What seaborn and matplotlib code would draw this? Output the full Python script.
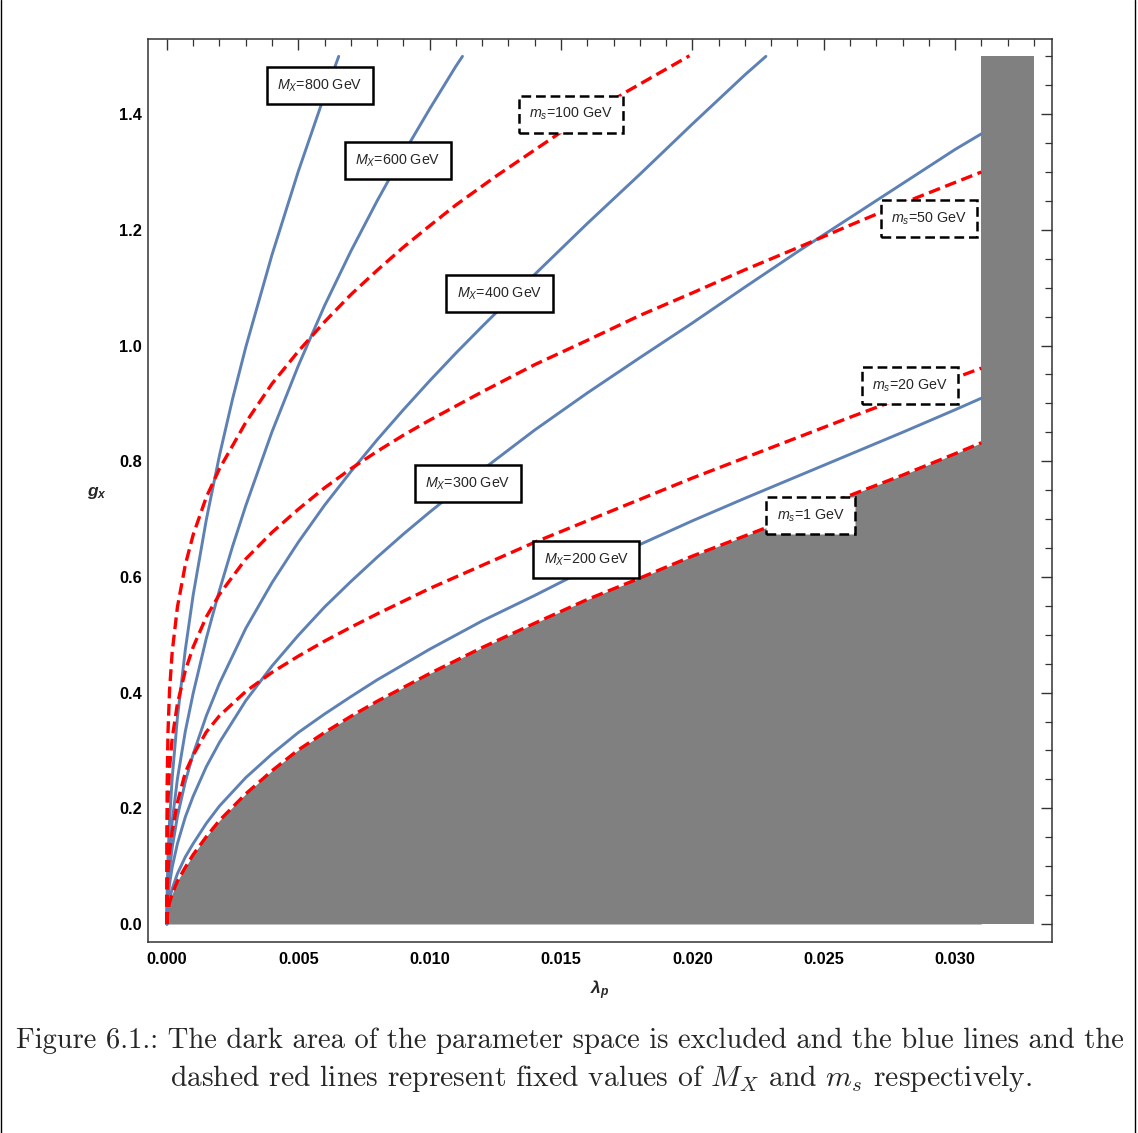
import numpy as np
import matplotlib
matplotlib.use("Agg")
import matplotlib.pyplot as plt
import seaborn as sns
from matplotlib.lines import Line2D
from matplotlib.ticker import MultipleLocator, FormatStrFormatter

# ---- contours of fixed dark-photon mass M_X (solid blue) ----
lam_mx800 = [0, 0.00001, 0.00004, 0.0001, 0.0002, 0.0004, 0.0007, 0.001, 0.0015,
             0.002, 0.0025, 0.003, 0.004, 0.005, 0.006, 0.00654]
g_mx800 = [0, 0.056, 0.113, 0.178, 0.252, 0.357, 0.474, 0.569, 0.699,
           0.810, 0.908, 0.997, 1.157, 1.301, 1.433, 1.500]

lam_mx600 = [0, 0.00001, 0.00004, 0.0001, 0.0002, 0.0004, 0.0007, 0.001, 0.0015,
             0.002, 0.0025, 0.003, 0.004, 0.005, 0.006, 0.007, 0.008, 0.009,
             0.010, 0.011, 0.01125]
g_mx600 = [0, 0.040, 0.079, 0.125, 0.177, 0.251, 0.333, 0.399, 0.494,
           0.577, 0.653, 0.723, 0.851, 0.965, 1.069, 1.163, 1.250, 1.332,
           1.409, 1.483, 1.500]

lam_mx400 = [0, 0.00001, 0.00004, 0.0001, 0.0002, 0.0004, 0.0007, 0.001, 0.0015,
             0.002, 0.003, 0.004, 0.005, 0.006, 0.007, 0.008, 0.009, 0.010,
             0.011, 0.012, 0.014, 0.016, 0.018, 0.020, 0.022, 0.0228]
g_mx400 = [0, 0.029, 0.059, 0.093, 0.132, 0.186, 0.246, 0.294, 0.360,
           0.416, 0.511, 0.590, 0.660, 0.724, 0.782, 0.837, 0.889, 0.939,
           0.987, 1.033, 1.123, 1.211, 1.296, 1.383, 1.468, 1.500]

lam_mx300 = [0, 0.00001, 0.00004, 0.0001, 0.0002, 0.0004, 0.0007, 0.001, 0.0015,
             0.002, 0.003, 0.004, 0.005, 0.006, 0.007, 0.008, 0.009, 0.010,
             0.012, 0.014, 0.016, 0.018, 0.020, 0.022, 0.024, 0.026, 0.028,
             0.030, 0.031]
g_mx300 = [0, 0.022, 0.044, 0.069, 0.098, 0.139, 0.185, 0.221, 0.272,
           0.314, 0.386, 0.446, 0.499, 0.548, 0.592, 0.634, 0.674, 0.712,
           0.785, 0.854, 0.918, 0.979, 1.039, 1.101, 1.162, 1.221, 1.280,
           1.339, 1.366]

lam_mx200 = [0, 0.00001, 0.00004, 0.0001, 0.0002, 0.0004, 0.0007, 0.001, 0.0015,
             0.002, 0.003, 0.004, 0.005, 0.006, 0.007, 0.008, 0.010, 0.012,
             0.014, 0.016, 0.018, 0.020, 0.022, 0.024, 0.026, 0.028, 0.030,
             0.031]
g_mx200 = [0, 0.014, 0.027, 0.043, 0.061, 0.087, 0.116, 0.139, 0.174,
           0.204, 0.253, 0.294, 0.331, 0.363, 0.393, 0.422, 0.475, 0.524,
           0.568, 0.614, 0.656, 0.697, 0.736, 0.774, 0.812, 0.850, 0.889,
           0.909]

# ---- contours of fixed scalar mass m_s (dashed red) ----
lam_ms100 = [0, 0.000002, 0.00001, 0.00004, 0.0001, 0.0002, 0.0004, 0.0007,
             0.001, 0.0015, 0.002, 0.003, 0.004, 0.005, 0.006, 0.007, 0.008,
             0.009, 0.010, 0.011, 0.0125, 0.015, 0.0175, 0.01989]
g_ms100 = [0, 0.171, 0.243, 0.330, 0.404, 0.470, 0.548, 0.621,
           0.673, 0.738, 0.787, 0.867, 0.934, 0.990, 1.041, 1.088, 1.130,
           1.170, 1.207, 1.243, 1.292, 1.369, 1.439, 1.501]

lam_ms50 = [0, 0.000002, 0.00001, 0.00004, 0.0001, 0.0002, 0.0004, 0.0007,
            0.001, 0.0015, 0.002, 0.003, 0.004, 0.005, 0.006, 0.007, 0.008,
            0.009, 0.010, 0.012, 0.014, 0.016, 0.018, 0.020, 0.022, 0.024,
            0.026, 0.028, 0.030, 0.031]
g_ms50 = [0, 0.101, 0.152, 0.214, 0.270, 0.321, 0.381, 0.438,
          0.479, 0.531, 0.570, 0.631, 0.677, 0.717, 0.754, 0.787, 0.817,
          0.845, 0.871, 0.920, 0.967, 1.009, 1.052, 1.091, 1.131, 1.169,
          1.208, 1.246, 1.282, 1.300]

lam_ms20 = [0, 0.000002, 0.00001, 0.00004, 0.0001, 0.0002, 0.0004, 0.0007,
            0.001, 0.0015, 0.002, 0.003, 0.004, 0.005, 0.006, 0.007, 0.008,
            0.009, 0.010, 0.012, 0.014, 0.016, 0.018, 0.020, 0.022, 0.024,
            0.026, 0.028, 0.030, 0.031]
g_ms20 = [0, 0.030, 0.055, 0.090, 0.125, 0.160, 0.210, 0.262,
          0.292, 0.332, 0.360, 0.402, 0.435, 0.463, 0.489, 0.513, 0.536,
          0.558, 0.580, 0.620, 0.660, 0.697, 0.734, 0.771, 0.806, 0.841,
          0.876, 0.910, 0.944, 0.961]

lam_ms1 = [0, 0.00001, 0.00004, 0.0001, 0.0002, 0.0004, 0.0007, 0.001, 0.0015,
           0.002, 0.003, 0.004, 0.005, 0.006, 0.007, 0.008, 0.010, 0.012,
           0.014, 0.016, 0.018, 0.020, 0.022, 0.024, 0.026, 0.028, 0.030,
           0.031]
g_ms1 = [0, 0.012, 0.023, 0.037, 0.052, 0.074, 0.098, 0.120, 0.151,
         0.179, 0.225, 0.265, 0.301, 0.331, 0.359, 0.385, 0.433, 0.478,
         0.520, 0.561, 0.598, 0.636, 0.671, 0.706, 0.741, 0.776, 0.813,
         0.832]

# excluded strip at large lambda_p
lam_strip = [0.031, 0.033]
g_strip = [1.5, 1.5]

mx_curves = [(lam_mx800, g_mx800), (lam_mx600, g_mx600), (lam_mx400, g_mx400),
             (lam_mx300, g_mx300), (lam_mx200, g_mx200)]
ms_curves = [(lam_ms100, g_ms100), (lam_ms50, g_ms50), (lam_ms20, g_ms20),
             (lam_ms1, g_ms1)]

mx_labels = ["800", "600", "400", "300", "200"]
mx_label_lam = [0.00581, 0.00878, 0.01266, 0.01146, 0.01597]
mx_label_g = [1.4497, 1.320, 1.090, 0.761, 0.630]

ms_labels = ["100", "50", "20", "1"]
ms_label_lam = [0.01538, 0.02901, 0.02829, 0.0245]
ms_label_g = [1.400, 1.2197, 0.931, 0.7054]

# ---- styling ----
sns.set_theme(style="white")
plt.rcParams.update({
    "font.family": ["Liberation Sans", "DejaVu Sans"],
    "mathtext.fontset": "custom",
    "mathtext.rm": "Liberation Sans",
    "mathtext.it": "Liberation Sans:italic",
    "mathtext.bf": "Liberation Sans:bold:italic",
    "lines.scale_dashes": False,
    "axes.edgecolor": "#333333",
    "axes.linewidth": 1.1,
})

W, H = 1138, 1133
fig = plt.figure(figsize=(W / 100, H / 100), dpi=100)
fig.patch.set_facecolor("white")
ax = fig.add_axes([148 / W, 1 - 942 / H, (1052 - 148) / W, (942 - 39) / H])
ax.set_facecolor("white")

BLUE = "#5E81B5"
GREY = "#808080"

# excluded region: below the m_s = 1 GeV contour plus the strip
ax.fill_between(lam_ms1, 0, g_ms1, color=GREY, lw=0, zorder=1)
ax.fill_between(lam_strip, 0, g_strip, color=GREY, lw=0, zorder=1)

for lam, g in mx_curves:
    sns.lineplot(x=lam, y=g, ax=ax, color=BLUE, lw=2.1, sort=False,
                 estimator=None, zorder=3)

for lam, g in ms_curves:
    sns.lineplot(x=lam, y=g, ax=ax, color="#FF0000", lw=2.4, sort=False,
                 estimator=None, zorder=3)
    ax.get_lines()[-1].set_dashes([8.5, 4.0])

for txt, x, y in zip(mx_labels, mx_label_lam, mx_label_g):
    ax.text(x, y, rf"$M_X$={txt} GeV", ha="center", va="center", fontsize=10.3,
            zorder=6,
            bbox=dict(boxstyle="square,pad=0.72", fc="white", ec="black", lw=1.8))

for txt, x, y in zip(ms_labels, ms_label_lam, ms_label_g):
    ax.text(x, y, rf"$m_s$={txt} GeV", ha="center", va="center", fontsize=10.3,
            zorder=6,
            bbox=dict(boxstyle="square,pad=0.72", fc="white", ec="black", lw=1.8,
                      ls=(0, (7.0, 3.5))))

ax.set_xlim(-0.00072, 0.03369)
ax.set_ylim(-0.0311, 1.530)
ax.set_xticks([0, 0.005, 0.01, 0.015, 0.02, 0.025, 0.03])
ax.set_yticks([0, 0.2, 0.4, 0.6, 0.8, 1.0, 1.2, 1.4])
ax.xaxis.set_minor_locator(MultipleLocator(0.001))
ax.yaxis.set_minor_locator(MultipleLocator(0.05))
ax.xaxis.set_major_formatter(FormatStrFormatter("%.3f"))
ax.yaxis.set_major_formatter(FormatStrFormatter("%.1f"))
ax.tick_params(which="both", direction="in", top=True, right=True,
               color="#333333", labelcolor="black")
ax.tick_params(which="major", length=8, width=1.0, labelsize=11.8)
ax.tick_params(axis="x", which="major", pad=7)
ax.tick_params(axis="y", which="major", pad=4.5)
ax.tick_params(which="minor", length=5, width=0.9)
for lab in ax.get_xticklabels() + ax.get_yticklabels():
    lab.set_fontweight("bold")

ax.set_xlabel(r"$\mathbf{λ_p}$", fontsize=12.5)
ax.set_ylabel(r"$\mathbf{g_x}$", fontsize=12.5, rotation=0, ha="center", va="center")
ax.xaxis.set_label_coords((600 - 148) / 904, (942 - 990) / 903)
ax.yaxis.set_label_coords((97 - 148) / 904, (942 - 493) / 903)
ax.xaxis.label.set_va("center")

# caption
fig.text(16 / W, 1 - 1041 / H,
         "Figure 6.1.: The dark area of the parameter space is excluded and the blue lines and the",
         fontfamily="cmr10", fontsize=20.6, ha="left", va="center")
fig.text(170 / W, 1 - 1078 / H,
         "dashed red lines represent fixed values of $M_X$ and $m_s$ respectively.",
         fontfamily="cmr10", fontsize=21.3, ha="left", va="center",
         math_fontfamily="cm")

# page border
for xp in (1.0, 1135.0):
    fig.add_artist(Line2D([xp / W, xp / W], [0, 1], transform=fig.transFigure,
                          color="black", lw=1.0))

fig.savefig("out.png", dpi=100, facecolor="white")
